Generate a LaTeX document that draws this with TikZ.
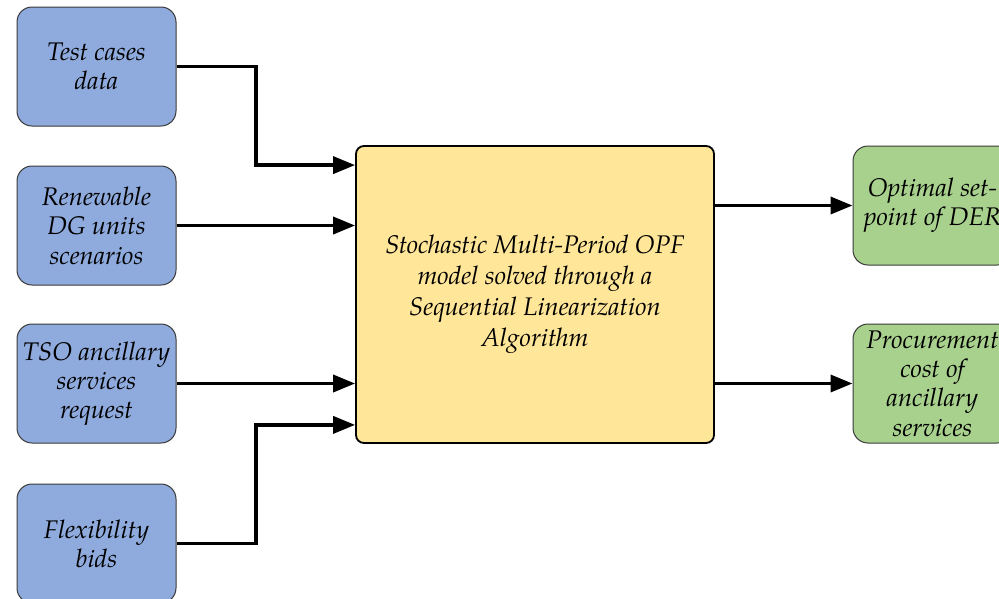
\documentclass[tikz,border=0pt]{standalone}
\usepackage{fontspec}
\setmainfont{TeX Gyre Pagella}
\usetikzlibrary{arrows.meta}
\definecolor{inblue}{HTML}{8FAADC}
\definecolor{outgreen}{HTML}{A9D18E}
\definecolor{coreyellow}{HTML}{FFE699}
\definecolor{edgegray}{HTML}{3A3A3A}
\tikzset{
  txt/.style={align=center, font=\fontsize{25.5}{29.3}\selectfont\itshape, text=black},
  inbox/.style={txt, draw=edgegray, line width=1pt, fill=inblue, rounded corners=15pt,
    minimum width=159pt, minimum height=119pt, inner sep=0pt},
  outbox/.style={txt, draw=edgegray, line width=1pt, fill=outgreen, rounded corners=15pt,
    minimum width=159pt, minimum height=119pt, inner sep=0pt},
  corebox/.style={txt, font=\fontsize{25.5}{31}\selectfont\itshape, draw=black, line width=1.8pt,
    fill=coreyellow, rounded corners=8pt, minimum width=358pt, minimum height=297pt, inner sep=0pt},
  arr/.style={line width=3.6pt, -{Triangle[length=22pt,width=17pt]}}
}
\begin{document}
\begin{tikzpicture}[x=1pt,y=-1pt]
  \useasboundingbox (0,0) rectangle (999,598);
  \clip (0,0) rectangle (999,598);

  % inputs
  \node[inbox] (t1) at (96.5,66.5) {Test cases\\data};
  \node[inbox] (t2) at (96.5,225.5) {Renewable\\DG units\\scenarios};
  \node[inbox] (t3) at (96.5,383.5) {TSO ancillary\\services\\request};
  \node[inbox] (t4) at (96.5,543.5) {Flexibility\\bids};

  % optimisation model
  \node[corebox] (core) at (535,294.5) {Stochastic Multi-Period OPF\\model solved through a\\Sequential Linearization\\Algorithm};

  % outputs
  \node[outbox] (o1) at (932.5,205.5) {Optimal set-\\point of DER};
  \node[outbox] (o2) at (932.5,383.5) {Procurement\\cost of\\ancillary\\services};

  % connectors
  \draw[arr] (t1.east) -| ([xshift=-99pt,yshift=-20pt]core.north west) -- ([yshift=-20pt]core.north west);
  \draw[arr] (t2.east) -- (core.west |- t2.east);
  \draw[arr] (t3.east) -- (core.west |- t3.east);
  \draw[arr] (t4.east) -| ([xshift=-99pt,yshift=19pt]core.south west) -- ([yshift=19pt]core.south west);
  \draw[arr] (core.east |- o1.west) -- (o1.west);
  \draw[arr] (core.east |- o2.west) -- (o2.west);
\end{tikzpicture}
\end{document}
